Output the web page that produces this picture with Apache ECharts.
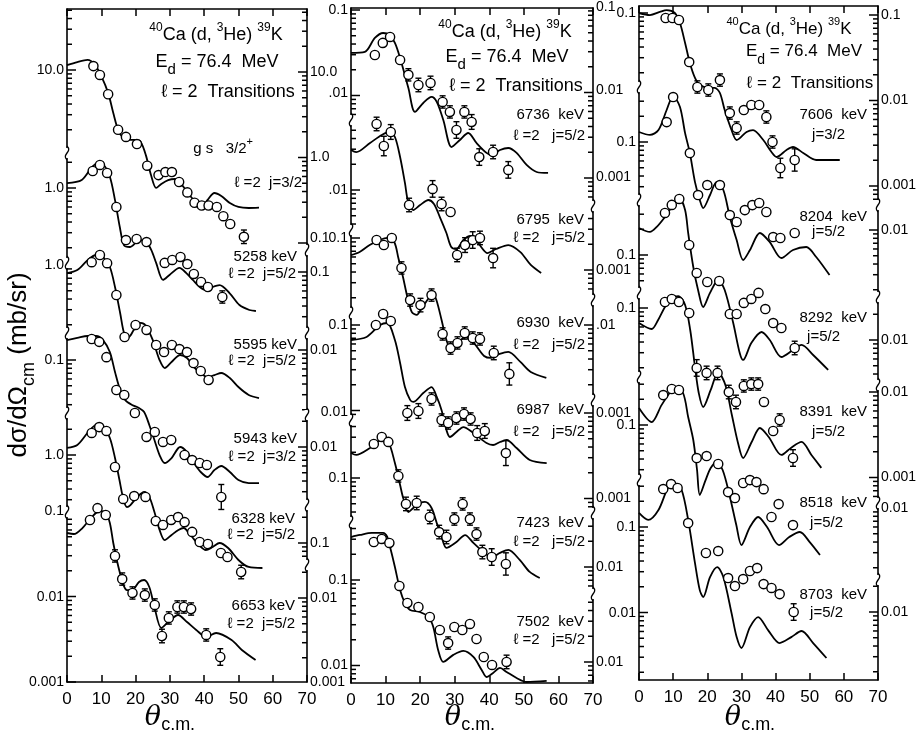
<!DOCTYPE html>
<html>
<head>
<meta charset="utf-8">
<script src="https://cdn.jsdelivr.net/npm/echarts@6/dist/echarts.min.js"></script>
<style>
  html, body { margin: 0; padding: 0; background: #fff; }
  #chart { width: 917px; height: 740px; }
</style>
</head>
<body>
<div id="chart"></div>
<script>
// ==========================
// DATA  (angle in deg c.m., cross section in mb/sr, error in %)
// ==========================

// ---- left panel ----
const L1_pts = [[7.7,11.1,0],[9.6,8.75,0],[12.0,5.2,0],[14.9,2.0,0],[17.2,1.65,0],[20.4,1.36,0],[23.4,0.76,8],[26.7,0.59,10],[28.7,0.64,10],[30.6,0.64,10],[32.7,0.49,10],[35.1,0.37,12],[37.2,0.28,12],[39.3,0.26,10],[41.3,0.26,10],[43.7,0.25,12],[45.6,0.195,14],[47.6,0.158,14],[51.6,0.112,20]];
const L1_fit = [[0,11.4],[3,12.4],[6,13.1],[8,11.7],[10,8.5],[12,5.4],[13.5,3.14],[15,1.94],[16.5,1.60],[18,1.52],[20,1.52],[21.5,1.44],[23,1.01],[24.5,0.59],[26,0.417],[27.5,0.465],[29.5,0.516],[31.5,0.531],[33.5,0.452],[35.5,0.355],[37.5,0.286],[39.5,0.256],[41,0.302],[43,0.364],[45,0.336],[47.5,0.278],[50,0.25],[53,0.243],[56,0.245]];

const L2_pts = [[7.5,1.58,10],[9.6,1.86,10],[11.7,1.50,10],[14.4,0.60,12],[17.2,0.246,12],[20.3,0.253,12],[23.2,0.233,12],[28.5,0.133,14],[30.7,0.144,14],[33.1,0.156,14],[35.1,0.129,14],[37.0,0.0987,14],[39.1,0.0796,14],[41.1,0.0695,14],[45.3,0.0531,18]];
const L2_fit = [[0,1.14],[4.3,1.24],[8.6,1.91],[10.6,1.86],[12.5,1.35],[14,0.72],[15.4,0.35],[16.6,0.215],[18.3,0.204],[21.2,0.246],[23,0.235],[24.6,0.188],[26,0.133],[28,0.084],[29.9,0.096],[32.8,0.116],[34.8,0.101],[36.7,0.084],[38.7,0.0695],[40.6,0.064],[42.5,0.0695],[44.5,0.073],[47.4,0.059],[50.3,0.0428],[53.2,0.0374],[55.1,0.0364]];

const L3_pts = [[7.2,1.08,12],[9.6,1.31,12],[11.7,1.05,12],[14.4,0.446,14],[16.8,0.144,14],[20,0.199,14],[23.2,0.174,14],[26,0.116,15],[28.3,0.096,15],[30.6,0.116,15],[32.8,0.104,15],[35,0.096,15],[36.9,0.0714,15],[39,0.0576,15],[41.3,0.0452,15]];
const L3_fit = [[0,0.806],[3,0.874],[6,1.14],[8.5,1.31],[10.5,1.24],[12.5,0.947],[14,0.553],[15.5,0.275],[16.8,0.152],[18,0.144],[19.5,0.174],[21.5,0.21],[23,0.194],[25,0.133],[27,0.0774],[28.5,0.0624],[30.5,0.0733],[33,0.0886],[35,0.0817],[37,0.0641],[39,0.0546],[41,0.049],[43,0.0516],[45,0.0546],[47.5,0.0477],[50,0.0374],[53,0.0302],[56,0.0278]];

const L4_pts = [[7.2,0.176,8],[9.4,0.163,10],[11.5,0.108,12],[14.4,0.0446,14],[16.7,0.039,14],[19.8,0.024,14],[23.2,0.0126,15],[25.6,0.0144,15],[28,0.011,15],[30.4,0.0116,15],[34.3,0.00774,15],[36.5,0.00676,15],[38.7,0.00624,15],[40.8,0.00592,15],[45,0.0025,40]];
const L4_fit = [[0,0.171],[3,0.181],[6,0.191],[8.5,0.191],[10.5,0.171],[12.5,0.124],[14,0.0724],[15.5,0.0446],[17,0.034],[19,0.0298],[21,0.0275],[22.5,0.0246],[24,0.0174],[25.5,0.0116],[27,0.00774],[28.5,0.00624],[30.5,0.00714],[33,0.0096],[35,0.0084],[37,0.00624],[39,0.0049],[41,0.00428],[43,0.00516],[45,0.00576],[47.5,0.0049],[50,0.00395],[53,0.00364],[56,0.00364]];

const L5_pts = [[7.2,1.81,12],[9.4,2.12,12],[11.5,1.91,12],[14,0.724,14],[16.4,0.306,14],[19.6,0.331,14],[22.9,0.323,14],[25.9,0.169,15],[28,0.152,15],[30.4,0.174,15],[32.4,0.188,15],[34.3,0.164,15],[36.5,0.126,15],[38.7,0.096,15],[41.1,0.091,15],[44.9,0.0714,15],[46.8,0.0641,15],[50.8,0.0428,20]];
const L5_fit = [[0,1.21],[3,1.31],[6,1.81],[8.5,2.24],[10.5,2.18],[12.5,1.58],[14,0.923],[15.3,0.51],[16.5,0.298],[17.5,0.246],[18.5,0.26],[20.5,0.323],[22.5,0.369],[24,0.323],[25.5,0.215],[27,0.133],[28.5,0.101],[30.5,0.116],[32.5,0.133],[34,0.14],[36,0.116],[38.5,0.0886],[40.5,0.0774],[42.5,0.084],[44.5,0.0935],[47,0.0817],[50,0.0592],[53,0.049],[57,0.0477]];

const L6_pts = [[6.7,0.0785,14],[8.9,0.108,14],[11.3,0.0898,14],[14,0.0298,18],[16.1,0.016,18],[19.1,0.011,18],[22.7,0.0104,18],[25.6,0.00796,18],[27.7,0.00345,20],[29.7,0.00561,18],[32.2,0.00754,18],[34.1,0.00754,18],[36.2,0.00714,18],[40.6,0.00355,18],[44.7,0.00196,25]];
const L6_fit = [[0,0.0553],[2,0.0538],[4.5,0.0632],[7,0.0828],[9.5,0.1],[11.3,0.0947],[12.5,0.0724],[13.5,0.0422],[15,0.0221],[16.5,0.0136],[17.5,0.0119],[19,0.0119],[21,0.0148],[22.5,0.0156],[24,0.0129],[25.5,0.00754],[27.5,0.00428],[29.5,0.00503],[32.4,0.00608],[35,0.00503],[37.7,0.00406],[40.6,0.00336],[43.5,0.00374],[48,0.0031],[51,0.00237],[55,0.00181]];

// ---- middle panel ----
const M1_pts = [[6.9,0.0278,0],[9.2,0.0385,0],[11.3,0.0452,0],[14.2,0.0243,12],[16.6,0.0163,18],[19.5,0.0124,20],[23,0.0131,20],[26.5,0.00785,18],[28.6,0.006,18],[30.5,0.00369,25],[32.8,0.006,18],[34.9,0.00458,22],[37.1,0.00178,25],[41.1,0.00204,20],[45.5,0.00126,25]];
const M1_fit = [[0,0.0294],[4,0.0302],[6.9,0.044],[9.3,0.0503],[11.1,0.0477],[12.7,0.0385],[14.2,0.0256],[16.6,0.0114],[18.5,0.006],[20.9,0.00764],[23.3,0.00898],[24.8,0.00785],[26.7,0.00483],[29.1,0.00233],[31.5,0.00282],[33.9,0.0034],[36.3,0.0026],[39.2,0.00199],[40.7,0.00188],[43.1,0.00215],[45.5,0.00227],[47.9,0.00199],[50.8,0.00144],[53.7,0.00119],[57,0.00116]];

const M2_pts = [[7.4,0.0592,20],[9.5,0.0327,30],[11.5,0.0477,22],[16.8,0.00668,20],[23.6,0.0103,25],[26.2,0.00686,20],[28.8,0.00553,15],[30.7,0.00174,20],[33,0.00227,22],[35.2,0.0026,25],[37.3,0.00275,20],[41.1,0.0016,30]];
const M2_fit = [[0,0.0294],[1.5,0.0278],[5.5,0.0355],[8.9,0.044],[11.1,0.0477],[12.7,0.0417],[14.2,0.0243],[15.6,0.0121],[16.6,0.00705],[18,0.00583],[20,0.00668],[22.4,0.00764],[24,0.00686],[25.7,0.00483],[27.6,0.00314],[29,0.00215],[30.5,0.00204],[32.5,0.0026],[34.5,0.0029],[37,0.00233],[39.5,0.00183],[42,0.00204],[45.5,0.00227],[49,0.00188],[52,0.00133],[55,0.00107]];

const M3_pts = [[7.4,0.0947,15],[9.5,0.0828,15],[11.8,0.1,15],[14.6,0.0446,18],[17.1,0.0188,18],[20.1,0.0164,20],[23.3,0.0215,18],[26.5,0.00754,18],[28.8,0.00516,18],[30.8,0.00592,18],[32.9,0.00774,18],[35.2,0.00676,18],[37.3,0.00659,18],[41.3,0.00452,20],[45.8,0.00257,35]];
const M3_fit = [[0,0.0632],[2.5,0.0686],[5.4,0.0828],[8.4,0.0947],[10.5,0.1],[12.5,0.0898],[13.7,0.0583],[15.1,0.034],[16.3,0.0204],[17.6,0.0136],[19,0.0126],[20.5,0.0152],[22.5,0.0199],[23.6,0.0227],[24.7,0.0188],[26.2,0.011],[27.6,0.00641],[29,0.0049],[31,0.00592],[33,0.00695],[35.5,0.00592],[38.5,0.00417],[40.5,0.00395],[43,0.0044],[45.5,0.00465],[49,0.00355],[52,0.00271],[56.5,0.00231]];

const M4_pts = [[7.2,0.1,15],[9.3,0.1345,15],[11.5,0.1114,15],[16.3,0.00935,22],[19.5,0.00987,22],[23.3,0.01364,18],[26.2,0.00774,18],[28.1,0.00714,18],[30.5,0.00817,18],[32.7,0.0091,18],[34.6,0.00796,18],[36.5,0.00546,22],[38.7,0.00576,22],[44.8,0.00318,40]];
const M4_fit = [[0,0.0668],[4.5,0.0724],[8.4,0.1],[10.5,0.1056],[12.7,0.0668],[14.2,0.036],[15.6,0.0188],[17.1,0.0133],[18,0.0126],[20.9,0.016],[23.3,0.0188],[24.8,0.0144],[26.2,0.0101],[27.6,0.00592],[28.6,0.0049],[30.5,0.00561],[32.5,0.00641],[35.4,0.00546],[39.2,0.00417],[41.1,0.00395],[43.1,0.00428],[45,0.00452],[47.9,0.00364],[51.7,0.00264],[56.6,0.00243]];

const M5_pts = [[6.6,0.25,15],[8.9,0.302,15],[10.8,0.264,15],[13.7,0.1056,18],[15.9,0.0497,20],[19,0.051,20],[22.8,0.035,20],[25.5,0.0233,20],[27.6,0.0204,20],[29.9,0.0331,18],[32.3,0.0497,18],[34.4,0.0331,18],[36.3,0.0221,18],[38,0.0136,20],[40.7,0.0119,25],[44.8,0.00987,35]];
const M5_fit = [[0,0.196],[1.5,0.186],[5.5,0.224],[8.9,0.278],[10.8,0.264],[12.7,0.1497],[14.2,0.0828],[15.1,0.0583],[16.6,0.04],[18,0.0446],[20.1,0.051],[21.4,0.0524],[23.3,0.0446],[24.8,0.0298],[26.2,0.0204],[27.6,0.0152],[30.5,0.0178],[33,0.0215],[35.4,0.0174],[38.3,0.0136],[40.7,0.0119],[43.1,0.0133],[45.5,0.0144],[48.8,0.011],[51.7,0.00796],[54.6,0.00676]];

const M6_pts = [[6.6,0.278,12],[8.9,0.302,12],[11.1,0.271,12],[14,0.0851,15],[16.3,0.0538,15],[19.5,0.0483,15],[22.8,0.0369,15],[25.7,0.026,15],[28.1,0.0183,18],[29.9,0.0282,15],[32.2,0.026,15],[34.4,0.0306,15],[36.3,0.0204,15],[38.4,0.01257,15],[40.8,0.01014,15],[45,0.011,20]];
const M6_fit = [[0,0.318],[2.6,0.336],[6,0.355],[9.3,0.355],[10.5,0.318],[11.3,0.243],[12.7,0.142],[14.2,0.0764],[15.6,0.0538],[17.1,0.0446],[19.9,0.0422],[22.4,0.0369],[23.8,0.0282],[25.2,0.0152],[26.7,0.011],[29.6,0.0133],[32.5,0.0148],[35.4,0.01257],[37.8,0.00886],[39.2,0.00733],[41.1,0.00817],[43.1,0.00935],[45,0.0084],[47.9,0.00714],[50.8,0.00641],[56.6,0.00659]];

// ---- right panel ----
const R1_pts = [[7.8,0.0874,0],[9.8,0.0874,0],[11.7,0.0828,0],[14.7,0.0267,15],[17.1,0.01364,18],[20.3,0.01257,18],[23.7,0.01644,18],[26.6,0.00676,18],[28.6,0.00452,18],[30.7,0.00733,15],[32.9,0.0084,15],[35.2,0.0084,15],[37.3,0.00608,18],[39.1,0.0031,18],[41.4,0.00154,30],[45.6,0.00191,35]];
const R1_fit = [[0,0.1],[3.2,0.0947],[6.1,0.103],[8.1,0.108],[10.5,0.1],[12,0.0764],[13.5,0.0446],[14.9,0.026],[16.4,0.0174],[17.8,0.0144],[20.8,0.0133],[22.2,0.0133],[23.7,0.0116],[25.1,0.00733],[27.1,0.00428],[28.6,0.00327],[31.5,0.00406],[33.4,0.00428],[36.4,0.00327],[38.8,0.00237],[40.3,0.00207],[43.2,0.0025],[45.1,0.00271],[48.1,0.00231],[51.9,0.00191],[58.8,0.00191]];

const R2_pts = [[8.1,0.171,10],[10,0.336,0],[14.9,0.0743,0],[17.3,0.024,0],[20,0.0314,0],[23.7,0.0314,0],[26.6,0.014,0],[28.6,0.0116,0],[31,0.016,10],[33.2,0.0183,10],[35.2,0.0194,10],[37.3,0.0152,10],[39.3,0.00774,15],[41.4,0.00754,15],[45.6,0.00863,15]];
const R2_fit = [[0,0.131],[3.2,0.121],[5.7,0.138],[8.1,0.237],[10,0.345],[12,0.257],[13.5,0.127],[14.9,0.0743],[16.4,0.034],[17.8,0.021],[18.8,0.0169],[20.8,0.024],[22.7,0.034],[24.7,0.0275],[26.6,0.0133],[28.6,0.00714],[30.5,0.00417],[32.5,0.00546],[35.4,0.00863],[38.3,0.00676],[41.7,0.0044],[45.1,0.00546],[49,0.00592],[51.9,0.00452],[55.8,0.00278]];

const R3_pts = [[7.6,0.31,15],[9.6,0.385,15],[11.8,0.452,15],[14.7,0.131,0],[16.9,0.0616,10],[20,0.0483,10],[23.5,0.0497,12],[26.6,0.0204,0],[28.6,0.0204,0],[30.7,0.0275,12],[32.9,0.0306,12],[35,0.036,12],[37,0.0233,12],[39.3,0.016,12],[41.7,0.014,15],[45.6,0.00817,20]];
const R3_fit = [[0,0.207],[3.2,0.186],[5.2,0.213],[7.6,0.278],[9.6,0.364],[11.8,0.464],[13.5,0.336],[14.4,0.181],[15.9,0.0724],[17.3,0.039],[18.8,0.0246],[20.8,0.036],[23.2,0.051],[25.1,0.039],[27.6,0.016],[29.5,0.00714],[30.5,0.00592],[32.9,0.00935],[35.9,0.01257],[38.3,0.01014],[41.7,0.00641],[45.1,0.00774],[47.6,0.00886],[51,0.00676],[55.4,0.00452]];

const R4_pts = [[7.6,0.1175,12],[9.6,0.1274,15],[11.7,0.1175,12],[14.7,0.0874,15],[16.9,0.0199,25],[19.8,0.0174,20],[23,0.0174,20],[26.3,0.0104,20],[28.4,0.00796,20],[30.7,0.01225,18],[32.9,0.0129,18],[34.9,0.0129,18],[36.6,0.00796,15],[39.3,0.00364,15],[41.2,0.0049,18],[45.1,0.00176,25]];
const R4_fit = [[0,0.0668],[3.7,0.0568],[5.6,0.0724],[7.6,0.1027],[9.6,0.131],[11.5,0.138],[13.5,0.1084],[15,0.0553],[16.4,0.0204],[17.5,0.01014],[18.8,0.00695],[21,0.011],[23.2,0.0178],[25.3,0.01257],[27.2,0.00561],[29,0.00264],[30.5,0.00176],[33,0.00271],[35.4,0.00395],[38,0.0031],[41.7,0.00191],[44.5,0.00231],[47.6,0.00271],[50.5,0.00191],[53.4,0.00135]];

const R5_pts = [[7.1,0.224,10],[9.6,0.264,10],[11.7,0.257,0],[16.9,0.0411,0],[19.8,0.0434,0],[23.2,0.035,12],[26.1,0.01644,12],[28.1,0.014,12],[30.5,0.021,10],[32.5,0.0227,10],[34.4,0.0215,10],[36.5,0.0178,10],[38.8,0.0084,12],[40.9,0.0119,15],[45.1,0.00676,15]];
const R5_fit = [[0,0.158],[3.7,0.1084],[6.6,0.171],[9.6,0.257],[10.6,0.271],[12.9,0.237],[14.4,0.124],[15.9,0.0668],[17,0.0298],[17.8,0.0152],[19.5,0.0227],[21,0.0314],[22.7,0.0369],[24.5,0.0298],[26.5,0.0152],[28.5,0.00676],[30,0.00395],[32.5,0.00641],[34.9,0.0084],[37.5,0.00641],[41,0.00395],[44,0.0049],[47.1,0.00561],[50,0.00428],[53,0.00302]];

const R6_pts = [[7.1,0.278,10],[9.4,0.318,0],[11.3,0.286,0],[14.4,0.1114,12],[19.6,0.0497,0],[23.2,0.0524,12],[26.1,0.0253,10],[28.1,0.0204,12],[30.5,0.0246,10],[32.5,0.0306,10],[34.6,0.0331,12],[36.5,0.0215,12],[38.8,0.0194,12],[41.2,0.01644,15],[45.3,0.01014,25]];
const R6_fit = [[0,0.146],[2.7,0.121],[5.7,0.158],[8.6,0.294],[10.5,0.327],[12.5,0.271],[14.4,0.121],[16.4,0.0379],[17.8,0.0183],[18.8,0.0152],[20.8,0.026],[22.9,0.034],[24.7,0.026],[27.1,0.00987],[28.6,0.00516],[30,0.00385],[32.5,0.00676],[34.9,0.00886],[37.8,0.00624],[41.2,0.0044],[44.6,0.00516],[47.6,0.00608],[51,0.0044],[54.9,0.00294]];

// curve labels
const LEFT_LEVELS = ['gs', '5258 keV', '5595 keV', '5943 keV', '6328 keV', '6653 keV'];
const LEFT_SPINS = ['ℓ =2  j=3/2', 'ℓ =2  j=5/2', 'ℓ =2  j=5/2', 'ℓ =2  j=3/2', 'ℓ =2  j=5/2', 'ℓ =2  j=5/2'];
const MID_LEVELS = ['6736  keV', '6795  keV', '6930  keV', '6987  keV', '7423  keV', '7502  keV'];
const MID_SPINS = ['ℓ =2   j=5/2', 'ℓ =2   j=5/2', 'ℓ =2   j=5/2', 'ℓ =2   j=5/2', 'ℓ =2   j=5/2', 'ℓ =2   j=5/2'];
const RIGHT_LEVELS = ['7606  keV', '8204  keV', '8292  keV', '8391  keV', '8518  keV', '8703  keV'];
const RIGHT_SPINS = ['j=3/2', 'j=5/2', 'j=5/2', 'j=5/2', 'j=5/2', 'j=5/2'];

// tick labels of the broken (stacked) log axes
const L_LEFT_TICKS = ['10.0', '1.0', '1.0', '0.1', '1.0', '0.1', '0.01', '0.001'];
const L_RIGHT_TICKS = ['10.0', '1.0', '0.1', '0.1', '0.01', '0.01', '0.1', '0.01', '0.001'];
const M_LEFT_TICKS = ['0.1', '.01', '.01', '0.1', '0.1', '0.01', '0.1', '0.1', '0.01'];
const M_RIGHT_TICKS = ['0.1', '0.01', '0.001', '0.001', '.01', '0.001', '0.001', '0.01', '0.01'];
const R_LEFT_TICKS = ['0.1', '0.1', '0.1', '0.1', '0.1', '0.1', '0.01'];
const R_RIGHT_TICKS = ['0.1', '0.01', '0.001', '0.01', '0.01', '0.01', '0.001', '0.01', '0.01'];

// ==========================
// LAYOUT
// ==========================

const FONT = '"Liberation Sans", "DejaVu Sans", Arial, sans-serif';
const DEC = 85.5; // px per decade on every panel

// shift = decades added to log10(sigma) so the stacked curves sit apart
const PANELS = [
  {
    left: 67, top: 9, width: 240, height: 673,
    curves: [
      {pts: L1_pts, fit: L1_fit, shift: 6.158},
      {pts: L2_pts, fit: L2_fit, shift: 5.778},
      {pts: L3_pts, fit: L3_fit, shift: 4.877},
      {pts: L4_pts, fit: L4_fit, shift: 4.766},
      {pts: L5_pts, fit: L5_fit, shift: 2.655},
      {pts: L6_pts, fit: L6_fit, shift: 3.0}
    ],
    axL: {text: L_LEFT_TICKS, y: [70, 188, 265, 360, 455, 511, 597, 682], breaks: [153, 263, 333, 413, 512]},
    axR: {text: L_RIGHT_TICKS, y: [72, 157, 238, 272, 350, 447, 543, 598, 682], breaks: [250, 333, 415, 505, 565]},
    titleX: [216, 217, 228], titleY: [33, 65, 92], fs: 18, thetaX: 170
  },
  {
    left: 351, top: 8, width: 242, height: 675,
    curves: [
      {pts: M1_pts, fit: M1_fit, shift: 8.901},
      {pts: M2_pts, fit: M2_fit, shift: 7.766},
      {pts: M3_pts, fit: M3_fit, shift: 6.205},
      {pts: M4_pts, fit: M4_fit, shift: 5.187},
      {pts: M5_pts, fit: M5_fit, shift: 3.398},
      {pts: M6_pts, fit: M6_fit, shift: 2.205}
    ],
    axL: {text: M_LEFT_TICKS, y: [10, 93, 190, 238, 325, 412, 478, 580, 665], breaks: [120, 230, 313, 420, 522]},
    axR: {text: M_RIGHT_TICKS, y: [7, 90, 177, 270, 325, 413, 498, 567, 662], breaks: [206, 300, 400, 513, 594]},
    titleX: [505, 507, 516], titleY: [30, 60, 86], fs: 18, thetaX: 470
  },
  {
    left: 639, top: 6, width: 239, height: 674,
    curves: [
      {pts: R1_pts, fit: R1_fit, shift: 8.801},
      {pts: R2_pts, fit: R2_fit, shift: 7.292},
      {pts: R3_pts, fit: R3_fit, shift: 5.971},
      {pts: R4_pts, fit: R4_fit, shift: 5.351},
      {pts: R5_pts, fit: R5_fit, shift: 3.982},
      {pts: R6_pts, fit: R6_fit, shift: 2.789}
    ],
    axL: {text: R_LEFT_TICKS, y: [13, 142, 255, 308, 425, 527, 613], breaks: [87, 200, 293, 377, 480]},
    axR: {text: R_RIGHT_TICKS, y: [15, 100, 185, 230, 340, 392, 477, 508, 612], breaks: [205, 297, 385, 503, 580]},
    titleX: [789, 804, 810], titleY: [27, 55, 83], fs: 17, thetaX: 750
  }
];

// label anchors: [x of right edge, y] for level line and spin line
const LABEL_POS = [
  [[253, 146, 302, 183], [297, 257, 296, 274], [297, 345, 296, 361], [297, 439, 296, 457], [295, 519, 295, 535], [295, 606, 295, 624]],
  [[584, 115, 585, 136], [584, 220, 585, 238], [584, 323, 585, 345], [584, 410, 585, 432], [584, 523, 585, 542], [584, 622, 585, 640]],
  [[867, 115, 845, 135], [867, 217, 845, 232], [867, 318, 840, 337], [867, 412, 845, 432], [867, 503, 843, 523], [867, 595, 843, 613]]
];
const LEVELS = [LEFT_LEVELS, MID_LEVELS, RIGHT_LEVELS];
const SPINS = [LEFT_SPINS, MID_SPINS, RIGHT_SPINS];

// ==========================
// SERIES BUILDERS
// ==========================

const chart = echarts.init(document.getElementById('chart'));

function fitSeries(pi, c) {
  return {
    type: 'line', xAxisIndex: 2 * pi, yAxisIndex: 2 * pi,
    data: c.fit.map(p => [p[0], Math.log10(p[1]) + c.shift]),
    smooth: 0.3, symbol: 'none', silent: true, z: 3,
    lineStyle: {color: '#000', width: 1.8}
  };
}

function pointSeries(pi, c) {
  return {
    type: 'custom', xAxisIndex: 2 * pi, yAxisIndex: 2 * pi, z: 4, silent: true,
    encode: {x: 0, y: 1},
    data: c.pts.map(p => {
      const f = 1 + p[2] / 100;
      return [p[0], Math.log10(p[1]) + c.shift, Math.log10(p[1] / f) + c.shift, Math.log10(p[1] * f) + c.shift];
    }),
    renderItem: (params, api) => {
      const c0 = api.coord([api.value(0), api.value(1)]);
      const lo = api.coord([api.value(0), api.value(2)]);
      const hi = api.coord([api.value(0), api.value(3)]);
      const r = 4.6;
      const st = {stroke: '#000', lineWidth: 1.4, fill: null};
      const kids = [];
      if (lo[1] - c0[1] > r + 1) {
        kids.push({type: 'line', shape: {x1: c0[0], y1: c0[1] + r, x2: c0[0], y2: lo[1]}, style: st});
        kids.push({type: 'line', shape: {x1: c0[0], y1: c0[1] - r, x2: c0[0], y2: hi[1]}, style: st});
        kids.push({type: 'line', shape: {x1: c0[0] - 3, y1: lo[1], x2: c0[0] + 3, y2: lo[1]}, style: st});
        kids.push({type: 'line', shape: {x1: c0[0] - 3, y1: hi[1], x2: c0[0] + 3, y2: hi[1]}, style: st});
      }
      kids.push({type: 'circle', shape: {cx: c0[0], cy: c0[1], r: r}, style: {stroke: '#000', lineWidth: 1.4, fill: '#fff'}});
      return {type: 'group', children: kids};
    }
  };
}

// log ticks of each broken axis segment, anchored on the segment's decade label
function buildTicks(P) {
  const bottom = P.top + P.height;
  const toU = y => (bottom - y) / DEC;
  const ticks = [];
  [[P.axL, 0, 1], [P.axR, 70, -1]].forEach(([ax, xv, dir]) => {
    const bounds = [P.top].concat(ax.breaks, [bottom]);
    for (let s = 0; s < bounds.length - 1; s++) {
      const yA = bounds[s], yB = bounds[s + 1];
      const idx = ax.y.findIndex(y => y >= yA - 3 && y <= yB + 3);
      if (idx < 0) continue;
      const u0 = toU(ax.y[idx]);
      const uHi = toU(yA) + (s === 0 ? 0.01 : -0.06);
      const uLo = toU(yB) + (s === bounds.length - 2 ? -0.01 : 0.06);
      for (let n = -4; n <= 4; n++) {
        for (let k = 1; k <= 9; k++) {
          const u = u0 + n + Math.log10(k);
          if (u >= uLo && u <= uHi) ticks.push([xv, u, dir * (k === 1 ? 9 : 5)]);
        }
      }
    }
  });
  return ticks;
}

function tickSeries(pi) {
  return {
    type: 'custom', xAxisIndex: 2 * pi, yAxisIndex: 2 * pi, z: 6, silent: true,
    encode: {x: 0, y: 1},
    data: buildTicks(PANELS[pi]),
    renderItem: (params, api) => {
      const p = api.coord([api.value(0), api.value(1)]);
      const d = api.value(2);
      return {type: 'group', children: [
        {type: 'line', shape: {x1: p[0], y1: p[1], x2: p[0] + d, y2: p[1]},
          style: {stroke: '#000', lineWidth: 1.5, fill: null}}
      ]};
    }
  };
}

function tickLabelSeries(pi) {
  const P = PANELS[pi];
  const bottom = P.top + P.height;
  const items = [], texts = [];
  [[P.axL, 0, 1], [P.axR, 70, -1]].forEach(([ax, xv, dir]) => {
    ax.y.forEach((y, i) => { items.push([xv, (bottom - y) / DEC, dir]); texts.push(ax.text[i]); });
  });
  return {
    type: 'custom', xAxisIndex: 2 * pi, yAxisIndex: 2 * pi, z: 6, silent: true,
    encode: {x: 0, y: 1},
    data: items,
    renderItem: (params, api) => {
      const p = api.coord([api.value(0), api.value(1)]);
      const left = api.value(2) > 0;
      return {type: 'text', x: p[0] - api.value(2) * 3, y: p[1],
        style: {text: texts[params.dataIndex], fill: '#000', font: '14px ' + FONT,
          align: left ? 'right' : 'left', verticalAlign: 'middle',
          textAlign: left ? 'right' : 'left', textVerticalAlign: 'middle'}};
    }
  };
}

function breakSeries(pi) {
  const P = PANELS[pi];
  const bottom = P.top + P.height;
  const items = [];
  P.axL.breaks.forEach(y => items.push([0, (bottom - y) / DEC]));
  P.axR.breaks.forEach(y => items.push([70, (bottom - y) / DEC]));
  return {
    type: 'custom', xAxisIndex: 2 * pi, yAxisIndex: 2 * pi, z: 7, silent: true,
    encode: {x: 0, y: 1},
    data: items,
    renderItem: (params, api) => {
      const p = api.coord([api.value(0), api.value(1)]);
      return {type: 'group', children: [
        {type: 'rect', shape: {x: p[0] - 2.5, y: p[1] - 5, width: 5, height: 10}, style: {fill: '#fff'}},
        {type: 'bezierCurve', shape: {x1: p[0], y1: p[1] + 7, cpx1: p[0] - 6, cpy1: p[1] + 1,
          cpx2: p[0] + 6, cpy2: p[1] - 1, x2: p[0], y2: p[1] - 7},
          style: {stroke: '#000', lineWidth: 1.3, fill: null}}
      ]};
    }
  };
}

// ==========================
// OPTION
// ==========================

const grids = [], xAxes = [], yAxes = [], series = [], graphics = [];
const lineSt = {color: '#000', width: 1.6};
const center = {fill: '#000', align: 'center', verticalAlign: 'middle', textAlign: 'center', textVerticalAlign: 'middle'};

PANELS.forEach((P, pi) => {
  grids.push({left: P.left, top: P.top, width: P.width, height: P.height});
  xAxes.push({
    gridIndex: pi, type: 'value', min: 0, max: 70, interval: 10, position: 'bottom',
    axisLine: {show: true, onZero: false, lineStyle: lineSt},
    axisTick: {show: true, inside: true, length: 7, lineStyle: {color: '#000', width: 1.5}},
    axisLabel: {color: '#000', fontSize: 17, fontFamily: FONT, margin: 9},
    splitLine: {show: false}
  });
  xAxes.push({
    gridIndex: pi, type: 'value', min: 0, max: 70, interval: 10, position: 'top',
    axisLine: {show: true, onZero: false, lineStyle: lineSt},
    axisTick: {show: true, inside: true, length: 7, lineStyle: {color: '#000', width: 1.5}},
    axisLabel: {show: false}, splitLine: {show: false}
  });
  const ymax = P.height / DEC;
  ['left', 'right'].forEach(pos => yAxes.push({
    gridIndex: pi, type: 'value', min: 0, max: ymax, position: pos,
    axisLine: {show: true, onZero: false, lineStyle: lineSt},
    axisTick: {show: false}, axisLabel: {show: false}, splitLine: {show: false}
  }));

  P.curves.forEach(c => {
    series.push(fitSeries(pi, c));
    series.push(pointSeries(pi, c));
  });
  series.push(tickSeries(pi), tickLabelSeries(pi), breakSeries(pi));

  // reaction title
  const fs = P.fs;
  graphics.push({type: 'text', x: P.titleX[0], y: P.titleY[0], style: Object.assign({
    text: '{s|40}{n|Ca (d, }{s|3}{n|He) }{s|39}{n|K}',
    rich: {n: {fontSize: fs, fontFamily: FONT, lineHeight: 22, verticalAlign: 'bottom'},
           s: {fontSize: Math.round(fs * 0.65), fontFamily: FONT, lineHeight: 22, verticalAlign: 'top'}}}, center)});
  graphics.push({type: 'text', x: P.titleX[1], y: P.titleY[1], style: Object.assign({
    text: '{n|E}{b|d}{n| = 76.4  MeV}',
    rich: {n: {fontSize: fs, fontFamily: FONT, lineHeight: 24, verticalAlign: 'top'},
           b: {fontSize: Math.round(fs * 0.85), fontFamily: FONT, lineHeight: 24, verticalAlign: 'bottom'}}}, center)});
  graphics.push({type: 'text', x: P.titleX[2], y: P.titleY[2], style: Object.assign({
    text: 'ℓ = 2  Transitions', font: fs + 'px ' + FONT}, center)});

  // curve labels
  LABEL_POS[pi].forEach((lp, ci) => {
    const lvl = LEVELS[pi][ci];
    const lvlStyle = lvl === 'gs' ? {
      text: '{n|g s   3/2}{s|+}',
      rich: {n: {fontSize: 15, fontFamily: FONT, lineHeight: 20, verticalAlign: 'bottom'},
             s: {fontSize: 11, fontFamily: FONT, lineHeight: 20, verticalAlign: 'top'}}
    } : {text: lvl, font: '15px ' + FONT};
    graphics.push({type: 'text', x: lp[0], y: lp[1], style: Object.assign({
      fill: '#000', align: 'right', verticalAlign: 'middle', textAlign: 'right', textVerticalAlign: 'middle'}, lvlStyle)});
    graphics.push({type: 'text', x: lp[2], y: lp[3], style: {
      text: SPINS[pi][ci], font: '15px ' + FONT,
      fill: '#000', align: 'right', verticalAlign: 'middle', textAlign: 'right', textVerticalAlign: 'middle'}});
  });

  // theta c.m. axis name
  graphics.push({type: 'text', x: P.thetaX, y: 719, style: Object.assign({
    text: '{t|θ}{c|c.m.}',
    rich: {t: {fontSize: 27, fontStyle: 'italic', fontFamily: '"DejaVu Serif", serif', lineHeight: 30, verticalAlign: 'top'},
           c: {fontSize: 18, fontFamily: FONT, lineHeight: 30, verticalAlign: 'bottom'}}}, center)});
});

// vertical axis title
graphics.push({type: 'text', x: 22, y: 365, rotation: Math.PI / 2, style: Object.assign({
  text: '{n|dσ/dΩ}{b|cm}{n| (mb/sr)}',
  rich: {n: {fontSize: 26, fontFamily: FONT, lineHeight: 32, verticalAlign: 'top'},
         b: {fontSize: 18, fontFamily: FONT, lineHeight: 32, verticalAlign: 'bottom'}}}, center)});

chart.setOption({
  animation: false,
  backgroundColor: '#fff',
  grid: grids,
  xAxis: xAxes,
  yAxis: yAxes,
  series: series,
  graphic: graphics
});
</script>
</body>
</html>
